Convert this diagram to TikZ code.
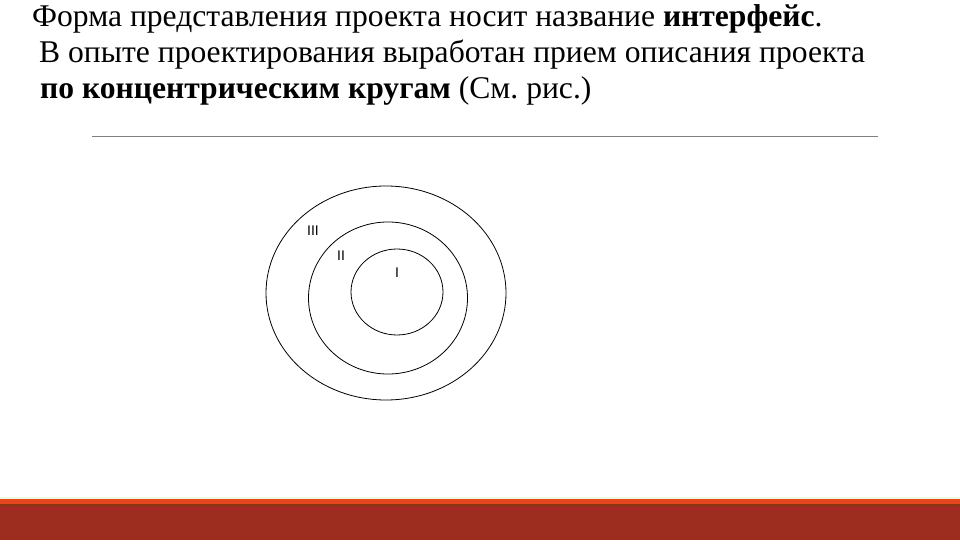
\documentclass[tikz,border=0pt]{standalone}
\usepackage{fontspec}
\setmainfont{Liberation Serif}
\setsansfont{Liberation Sans}
\usepackage{tikz}
\usetikzlibrary{positioning}
\frenchspacing

\definecolor{barred}{HTML}{9C2D1F}
\definecolor{barorange}{HTML}{E6461E}
\definecolor{bardark}{HTML}{8C3414}
\definecolor{barmid}{HTML}{A8282A}
\definecolor{barlight}{HTML}{EEF6DC}

\begin{document}
\begin{tikzpicture}[x=1pt,y=-1pt,
      line/.style={font=\fontsize{31.6}{38}\selectfont,anchor=base west,inner sep=0pt},
      ring/.style={draw=black,line width=0.8pt},
      level/.style={font=\sffamily\fontsize{14}{16}\selectfont,inner sep=0pt}]
			\useasboundingbox (0,0) rectangle (960,540);
			% heading text
			\node[line] (t1) at (32,27) {Форма представления проекта носит название \textbf{интерфейс}.};
			\node[line] (t2) at (39,63) {В опыте проектирования выработан прием описания проекта};
			\node[line] (t3) at (40,99) {\textbf{по концентрическим кругам} (См. рис.)};
			\draw[gray,line width=1pt] (92,136.5) -- (878,136.5);
			% rings
			\draw[ring] (386,293) ellipse [x radius=120,y radius=107];
			\draw[ring] (388,298) ellipse [x radius=79.5,y radius=76];
			\draw[ring] (397,292) ellipse [x radius=46,y radius=43];
			\node[level] (l3) at (313,231) {III};
			\node[level] (l2) at (341,256) {II};
			\node[level] (l1) at (397,273) {I};
			% bottom band
			\fill[barlight] (0,497) rectangle (960,498.5);
			\fill[barorange] (0,498.5) rectangle (960,503.5);
			\fill[bardark] (0,503.5) rectangle (960,507);
			\fill[barmid] (0,507) rectangle (960,510);
			\fill[barred] (0,510) rectangle (960,540);
		\end{tikzpicture}
\end{document}
